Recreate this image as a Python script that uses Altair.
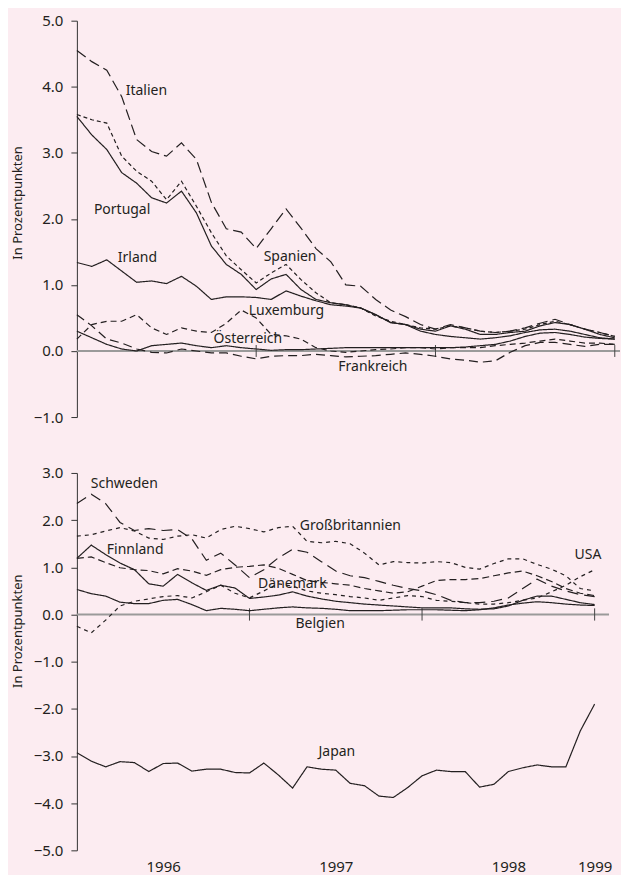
import altair as alt
import pandas as pd

FONT = "Noto Sans"
INK = "#231f20"
BG = "#fcecf1"

months = list(range(37))

# ---------- top panel ----------
top_names = ["Italien", "Spanien", "Portugal", "Irland", "Luxemburg", "Österreich", "Frankreich"]
top_dash = [[11, 5], [4, 3], [1, 0], [1, 0], [6, 4], [1, 0], [9, 5]]

italien = [4.55, 4.38, 4.25, 3.85, 3.2, 3.02, 2.95, 3.15, 2.9, 2.25, 1.85, 1.8, 1.55, 1.85, 2.15, 1.86,
           1.55, 1.35, 1.0, 0.98, 0.78, 0.62, 0.52, 0.40, 0.33, 0.40, 0.35, 0.30, 0.28, 0.30, 0.35, 0.42,
           0.48, 0.40, 0.33, 0.28, 0.22]
spanien = [3.58, 3.5, 3.45, 2.95, 2.72, 2.57, 2.29, 2.57, 2.19, 1.79, 1.44, 1.23, 1.03, 1.18, 1.31, 1.08,
           0.88, 0.73, 0.70, 0.65, 0.53, 0.45, 0.40, 0.35, 0.33, 0.38, 0.35, 0.30, 0.28, 0.30, 0.33, 0.40,
           0.45, 0.40, 0.33, 0.28, 0.22]
portugal = [3.55, 3.27, 3.05, 2.7, 2.54, 2.32, 2.24, 2.42, 2.09, 1.59, 1.31, 1.16, 0.93, 1.09, 1.16, 0.93,
            0.78, 0.73, 0.70, 0.65, 0.55, 0.43, 0.40, 0.33, 0.30, 0.38, 0.33, 0.25, 0.25, 0.28, 0.30, 0.38,
            0.43, 0.40, 0.33, 0.25, 0.20]
irland = [1.34, 1.28, 1.38, 1.21, 1.04, 1.06, 1.02, 1.13, 0.98, 0.78, 0.82, 0.82, 0.81, 0.78, 0.91, 0.83,
          0.76, 0.70, 0.68, 0.65, 0.55, 0.43, 0.40, 0.30, 0.25, 0.22, 0.20, 0.18, 0.20, 0.23, 0.28, 0.32,
          0.33, 0.30, 0.25, 0.20, 0.18]
luxemburg = [0.18, 0.40, 0.45, 0.45, 0.55, 0.35, 0.25, 0.35, 0.30, 0.28, 0.42, 0.62, 0.50, 0.25, 0.23, 0.18,
             0.05, 0.0, -0.02, 0.0, 0.02, 0.03, 0.05, 0.05, 0.03, 0.05, 0.05, 0.05, 0.08, 0.10, 0.12, 0.15,
             0.18, 0.15, 0.12, 0.12, 0.10]
oesterreich = [0.30, 0.20, 0.10, 0.03, 0.0, 0.08, 0.10, 0.12, 0.08, 0.05, 0.08, 0.05, 0.03, 0.01, 0.02, 0.02,
               0.03, 0.04, 0.05, 0.05, 0.05, 0.05, 0.05, 0.05, 0.05, 0.05, 0.06, 0.08, 0.10, 0.15, 0.22, 0.27,
               0.28, 0.25, 0.21, 0.19, 0.18]
frankreich = [0.55, 0.38, 0.18, 0.12, 0.03, -0.02, -0.03, 0.03, 0.0, -0.03, -0.03, -0.08, -0.12, -0.08, -0.07,
              -0.07, -0.05, -0.07, -0.09, -0.08, -0.07, -0.05, -0.03, -0.05, -0.08, -0.12, -0.14, -0.17, -0.15,
              -0.02, 0.08, 0.13, 0.13, 0.10, 0.07, 0.10, 0.10]
top_series = [italien, spanien, portugal, irland, luxemburg, oesterreich, frankreich]

top_label_text = ["Italien", "Portugal", "Irland", "Spanien", "Luxemburg", "Österreich", "Frankreich"]
top_label_x = [3.27, 1.14, 2.74, 12.5, 11.5, 9.15, 17.5]
top_label_y = [3.94, 2.14, 1.41, 1.43, 0.61, 0.18, -0.24]

# ---------- bottom panel ----------
bot_names = ["Schweden", "Großbritannien", "Dänemark", "USA", "Finnland", "Belgien", "Japan"]
bot_dash = [[11, 6], [4, 4], [7, 4], [4, 4], [1, 0], [1, 0], [1, 0]]

schweden = [2.35, 2.55, 2.35, 1.95, 1.78, 1.82, 1.78, 1.80, 1.60, 1.15, 1.30, 1.05, 0.78, 0.95, 1.20, 1.38,
            1.32, 1.12, 0.92, 0.82, 0.78, 0.70, 0.62, 0.55, 0.50, 0.42, 0.30, 0.25, 0.25, 0.28, 0.35, 0.55,
            0.75, 0.60, 0.50, 0.42, 0.38]
grossbritannien = [1.66, 1.69, 1.77, 1.84, 1.77, 1.62, 1.59, 1.66, 1.69, 1.62, 1.80, 1.87, 1.82, 1.75, 1.84,
                   1.87, 1.55, 1.52, 1.55, 1.50, 1.30, 1.05, 1.12, 1.10, 1.09, 1.12, 1.10, 1.00, 0.96, 1.08,
                   1.18, 1.18, 1.06, 0.96, 0.82, 0.55, 0.50]
daenemark = [1.19, 1.22, 1.10, 0.99, 0.95, 0.93, 0.86, 0.97, 0.92, 0.83, 0.95, 1.00, 1.02, 1.05, 0.98, 0.85,
             0.72, 0.68, 0.65, 0.62, 0.55, 0.50, 0.45, 0.48, 0.60, 0.72, 0.74, 0.74, 0.76, 0.82, 0.88, 0.92,
             0.82, 0.70, 0.55, 0.45, 0.40]
usa = [-0.25, -0.39, -0.12, 0.18, 0.28, 0.33, 0.38, 0.40, 0.35, 0.48, 0.62, 0.45, 0.35, 0.50, 0.65, 0.60,
       0.50, 0.45, 0.42, 0.38, 0.35, 0.30, 0.35, 0.40, 0.38, 0.30, 0.28, 0.25, 0.22, 0.22, 0.25, 0.30,
       0.35, 0.48, 0.62, 0.80, 0.95]
finnland = [1.19, 1.47, 1.27, 1.09, 0.95, 0.65, 0.60, 0.85, 0.67, 0.51, 0.62, 0.56, 0.34, 0.37, 0.41, 0.48,
            0.39, 0.33, 0.28, 0.25, 0.22, 0.20, 0.18, 0.16, 0.14, 0.14, 0.14, 0.12, 0.11, 0.12, 0.18, 0.30,
            0.39, 0.39, 0.32, 0.25, 0.21]
belgien = [0.53, 0.44, 0.39, 0.26, 0.23, 0.23, 0.30, 0.32, 0.21, 0.08, 0.13, 0.11, 0.08, 0.11, 0.14, 0.16,
           0.14, 0.13, 0.11, 0.08, 0.08, 0.08, 0.09, 0.10, 0.10, 0.10, 0.09, 0.08, 0.10, 0.14, 0.20, 0.24,
           0.27, 0.25, 0.22, 0.20, 0.19]
japan = [-2.93, -3.11, -3.23, -3.12, -3.14, -3.33, -3.16, -3.15, -3.32, -3.28, -3.28, -3.35, -3.36, -3.15,
         -3.40, -3.68, -3.23, -3.28, -3.30, -3.58, -3.63, -3.85, -3.88, -3.67, -3.42, -3.30, -3.33, -3.33,
         -3.66, -3.60, -3.33, -3.25, -3.19, -3.23, -3.23, -2.47, -1.90]
bot_series = [schweden, grossbritannien, daenemark, usa, finnland, belgien, japan]

bot_label_text = ["Schweden", "Finnland", "Großbritannien", "Dänemark", "Belgien", "USA", "Japan"]
bot_label_x = [0.97, 2.08, 15.5, 12.6, 15.2, 34.6, 16.8]
bot_label_y = [2.76, 1.37, 1.87, 0.64, -0.20, 1.25, -2.92]

year_labels = ["1996", "1997", "1998", "1999"]
year_pos = [6, 18, 30, 36]
tick_months = [12, 24, 36]

for s in top_series + bot_series:
    assert len(s) == len(months), len(s)


def long_table(names, series):
    rows = []
    for n, vals in zip(names, series):
        for m, v in zip(months, vals):
            rows.append({"month": m, "value": v, "series": n})
    return pd.DataFrame(rows)


def panel(names, series, dashes, ydom, yvals, width, height, xmax, lab_t, lab_x, lab_y,
          tick_half, xaxis, title_y):
    xs = alt.Scale(domain=[0, xmax], nice=False, zero=False)
    ys = alt.Scale(domain=ydom, nice=False, zero=False)
    yaxis = alt.Axis(values=yvals, format=".1f", title="In Prozentpunkten", grid=False, titleY=title_y)
    X = alt.X("month:Q", scale=xs, axis=xaxis)
    Y = alt.Y("value:Q", scale=ys, axis=yaxis)

    df = long_table(names, series)
    lines = alt.Chart(df).mark_line(color=INK, strokeWidth=1.2).encode(
        x=X, y=Y,
        detail="series:N",
        strokeDash=alt.StrokeDash("series:N", scale=alt.Scale(domain=names, range=dashes), legend=None),
    )
    zero = alt.Chart(pd.DataFrame({"value": [0.0]})).mark_rule(color="#9a9a9a", strokeWidth=2).encode(y=Y)
    tdf = pd.DataFrame({"month": tick_months, "value": [-tick_half] * 3, "value2": [tick_half] * 3})
    ticks = alt.Chart(tdf).mark_rule(color="#444444", strokeWidth=1).encode(x=X, y=Y, y2="value2:Q")
    ldf = pd.DataFrame({"t": lab_t, "month": lab_x, "value": lab_y})
    labels = alt.Chart(ldf).mark_text(align="left", baseline="middle", font=FONT, fontSize=14,
                                      color=INK).encode(x=X, y=Y, text="t:N")
    return alt.layer(zero, ticks, lines, labels).properties(width=width, height=height)


label_expr = " : ".join(
    f"datum.value == {p} ? '{t}'" for p, t in zip(year_pos[:-1], year_labels[:-1])
) + f" : '{year_labels[-1]}'"

top_xaxis = alt.Axis(domain=False, ticks=False, labels=False, grid=False, title=None)
bottom_xaxis = alt.Axis(values=year_pos, labelExpr=label_expr, domain=False, ticks=False, grid=False,
                        title=None, labelFontSize=15, labelPadding=9)

top = panel(top_names, top_series, top_dash, [-1, 5], [-1, 0, 1, 2, 3, 4, 5], 544, 397, 36.35,
            top_label_text, top_label_x, top_label_y, 0.09, top_xaxis, 182)
bottom = panel(bot_names, bot_series, bot_dash, [-5, 3], [-5, -4, -3, -2, -1, 0, 1, 2, 3], 533, 378, 37,
               bot_label_text, bot_label_x, bot_label_y, 0.13, bottom_xaxis, 158)

chart = alt.vconcat(top, bottom, spacing=41).resolve_scale(strokeDash="independent").properties(
    background=BG,
    padding={"left": 3, "top": 5, "right": 0, "bottom": 0},
).configure_view(stroke=None).configure_axis(
    labelFont=FONT, labelFontSize=15, labelColor=INK, labelPadding=8,
    titleFont=FONT, titleFontSize=13, titleFontWeight="normal", titleColor=INK, titlePadding=9,
    domainColor="#333333", tickColor="#333333", tickSize=6,
)

chart.save("out.html", embed_options={"renderer": "svg", "actions": False})
